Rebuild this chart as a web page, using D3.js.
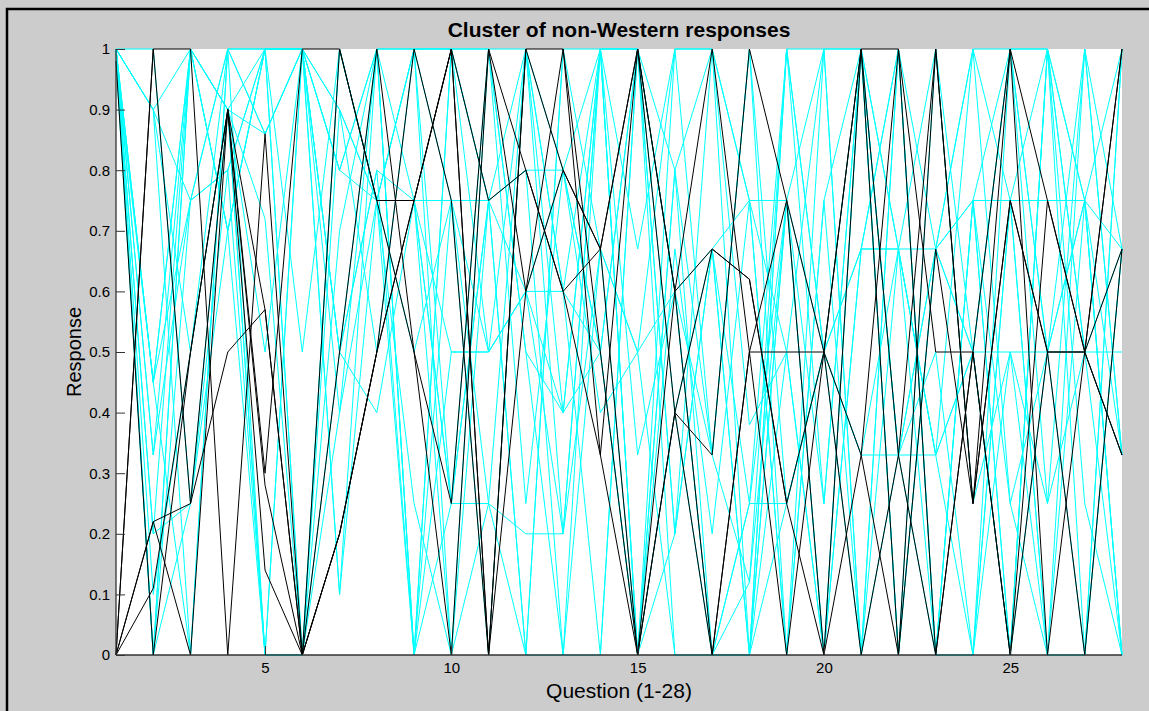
<!DOCTYPE html>
<html>
<head>
<meta charset="utf-8">
<script src="https://cdn.jsdelivr.net/npm/d3@7"></script>
<style>
  html, body { margin: 0; padding: 0; background: #cccccc; }
  svg { display: block; }
  text { font-family: "Liberation Sans", Arial, sans-serif; fill: #000; }
</style>
</head>
<body>
<svg id="chart" width="1149" height="711"></svg>
<script>
// question numbers 1..28
const questions = d3.range(1, 29);

const yTicks = [0, 0.1, 0.2, 0.3, 0.4, 0.5, 0.6, 0.7, 0.8, 0.9, 1];
const yTickLabels = ["0", "0.1", "0.2", "0.3", "0.4", "0.5", "0.6", "0.7", "0.8", "0.9", "1"];
const xTicks = [5, 10, 15, 20, 25];

// responses of the cluster members (cyan)
const clusterResponses = [
  [1, 0.9, 0.75, 1, 0.86, 1, 0.9, 0.75, 0.75, 0.75, 0.75, 0.8, 0.8, 0.5, 1, 0.2, 0.67, 0.75, 0.75, 0.5, 0.67, 0.67, 0.67, 0.75, 0.75, 0.75, 0.75, 0.67],
  [1, 0.45, 1, 0.9, 0, 0, 0.5, 1, 0, 0.25, 0.25, 0.2, 0.2, 1, 0, 0.8, 0, 0.25, 0.25, 0.5, 0.33, 0.33, 0.33, 0.5, 0.5, 0.5, 0.5, 0.33],
  [1, 1, 0.25, 0.8, 1, 1, 0.1, 0.75, 1, 1, 0.5, 0.6, 0.6, 0, 1, 0.4, 0.67, 0, 1, 1, 0, 0.67, 1, 0.5, 1, 1, 0, 1],
  [1, 0.33, 0.75, 1, 1, 0, 0.4, 0.75, 0, 0.5, 0.5, 0.6, 0.4, 1, 1, 0, 0, 0, 0.75, 0.25, 1, 0.33, 0, 0, 0.5, 0.25, 1, 0.33],
  [1, 0.1, 0.5, 0.9, 0.86, 1, 0.8, 1, 0.75, 0, 1, 1, 0.8, 0.4, 0.5, 1, 1, 0.38, 0.5, 0, 1, 0, 0.67, 1, 0.75, 0, 0, 0.67],
  [1, 0, 0.25, 0.7, 1, 0, 0.7, 1, 1, 0.25, 1, 0.5, 0, 0, 1, 0.6, 0, 0, 0.5, 1, 1, 0.67, 0.33, 0, 1, 0.5, 0, 1],
  [0.98, 0, 1, 0.9, 0, 1, 0.5, 0.8, 0, 1, 0.75, 0, 1, 0.67, 0, 0.67, 0.2, 0.75, 0, 1, 0, 1, 0.67, 0.75, 0, 1, 0.5, 0.5],
  [1, 0.2, 1, 0.9, 0.72, 0, 1, 0.75, 0.75, 0.25, 0.75, 0.8, 0, 1, 0.33, 0.6, 0.67, 0, 1, 0.25, 1, 0, 1, 0.25, 0.5, 0, 1, 0.33],
  [1, 0.9, 0.5, 1, 1, 1, 0.9, 0.5, 1, 1, 1, 0.25, 0.8, 1, 1, 0.2, 1, 0.75, 0, 0.75, 1, 0.33, 0.5, 0, 0.75, 1, 0.25, 0],
  [1, 0.45, 0, 1, 0.86, 1, 0.4, 1, 0, 0.75, 0, 1, 0.4, 0.5, 0, 0.8, 0.33, 1, 0.25, 0.5, 0, 1, 0, 0.75, 0, 1, 0.75, 0],
  [1, 0, 0.75, 0.8, 0, 0, 0.9, 0.75, 1, 0, 0.25, 0, 0, 0.67, 0.5, 0, 0, 0.25, 0.75, 0, 0.67, 1, 0, 0, 0.75, 0, 0, 0.67],
  [1, 0.33, 1, 0.7, 1, 1, 0.1, 1, 0, 1, 0.75, 1, 0.6, 1, 0, 0.4, 0, 0.12, 1, 0.5, 0.33, 0.67, 0.33, 1, 1, 0.25, 0.5, 0],
  [1, 0.45, 0.75, 0.8, 1, 1, 0.8, 0.75, 0.25, 0, 0.75, 0.6, 0.2, 0.67, 0.5, 0.6, 0, 0, 0.25, 0.5, 1, 0.33, 0.67, 0.5, 0, 0.5, 1, 0.67],
  [1, 0, 1, 0.9, 0.5, 1, 0.5, 0.4, 0.75, 0.5, 0.5, 0.6, 0.8, 0.5, 1, 0.6, 0.33, 1, 0, 0.75, 0, 0.33, 0.67, 1, 0.25, 0.5, 0.75, 1],
  [1, 0.9, 0, 1, 0, 0, 1, 0.75, 1, 0.75, 0.25, 1, 0.2, 1, 0, 0.2, 0.67, 0.25, 1, 0.5, 0.67, 0.67, 0, 0.75, 0.25, 0, 0.75, 0.33],
  [1, 0.2, 0.25, 0.9, 1, 1, 0.8, 1, 1, 1, 1, 0.5, 0.4, 1, 1, 0.8, 1, 0, 0.75, 1, 1, 0, 0.67, 0.5, 1, 1, 0.5, 0.67],
  [1, 0.9, 1, 0.7, 0, 1, 0.5, 0.8, 0.75, 0.25, 0.75, 0, 1, 1, 0.67, 1, 1, 0.75, 0.5, 0, 1, 0.67, 0.33, 0.5, 0, 1, 0.75, 0],
  [0.98, 0.45, 1, 0.7, 1, 0.5, 1, 0.75, 0.5, 0.75, 0.5, 1, 0.6, 0.5, 0, 1, 0.33, 0.12, 0.75, 0, 0.67, 1, 0, 0.75, 1, 0.5, 0.75, 0]
];

// responses of the highlighted (black) members
const highlightResponses = [
  [0, 1, 1, 0, 0.86, 0, 0.2, 0.5, 0.75, 1, 0.75, 0.8, 0.6, 0.67, 1, 0.6, 0.67, 0.62, 0.25, 0.5, 0, 0.33, 1, 0.25, 0.75, 0.5, 0.5, 1],
  [0, 0.22, 0.25, 0.9, 0.3, 1, 1, 0.75, 0.75, 1, 0, 1, 1, 0.33, 0, 0.4, 0, 0.5, 0.5, 0.5, 1, 1, 0, 0.5, 1, 0.75, 0.5, 0.33],
  [0, 0.22, 0, 0.9, 0.14, 0, 0.5, 1, 0.5, 0, 1, 0.6, 0.8, 0.67, 1, 0.4, 0.33, 1, 0.75, 0, 1, 0.33, 0, 0.5, 0, 0.5, 0.5, 0.67],
  [0, 0.11, 0.5, 0.9, 0.57, 0, 1, 0.75, 0.5, 0.25, 1, 0.8, 0.6, 0.33, 1, 0.6, 0, 0.5, 0.75, 0.5, 1, 0, 1, 0.25, 1, 0, 0.5, 1],
  [0, 1, 0.25, 0.5, 0.57, 0, 0.2, 0.5, 0.75, 1, 0, 0.6, 1, 0.5, 0, 0.4, 0.67, 0.62, 0.25, 0, 0.33, 1, 0.5, 0.5, 0, 0.75, 0.5, 0.33],
  [0.98, 0, 0.5, 0.9, 0.28, 0, 0.2, 0.5, 1, 0.75, 0, 1, 0.8, 0.67, 0, 0.6, 1, 0.5, 0, 0.5, 0.33, 0, 0.67, 0.25, 0.75, 0.5, 0, 0.67]
];

const svg = d3.select("#chart");
const W = 1149, H = 711;
const plot = { left: 116, right: 1122, top: 49, bottom: 655 };

svg.append("rect").attr("width", W).attr("height", H).attr("fill", "#cccccc");

// window frame (only the top and left edges are in the shot)
svg.append("path")
  .attr("d", `M7,${H + 5} L7,9 L${W + 5},9`)
  .attr("fill", "none").attr("stroke", "#000").attr("stroke-width", 2.5);

const x = d3.scaleLinear().domain([1, 28]).range([plot.left, plot.right]);
const y = d3.scaleLinear().domain([0, 1]).range([plot.bottom, plot.top]);

svg.append("rect")
  .attr("x", plot.left).attr("y", plot.top)
  .attr("width", plot.right - plot.left).attr("height", plot.bottom - plot.top)
  .attr("fill", "#fff");

const line = d3.line()
  .x((d, i) => x(questions[i]))
  .y(d => y(d));

const g = svg.append("g");

g.selectAll("path.cyan")
  .data(clusterResponses)
  .join("path")
  .attr("class", "cyan")
  .attr("d", line)
  .attr("fill", "none")
  .attr("stroke", "#00ffff")
  .attr("stroke-width", 1);

g.selectAll("path.black")
  .data(highlightResponses)
  .join("path")
  .attr("class", "black")
  .attr("d", line)
  .attr("fill", "none")
  .attr("stroke", "#000")
  .attr("stroke-width", 1);

// axes, ticks point inward like the original plot
const yAxis = d3.axisLeft(y)
  .tickValues(yTicks)
  .tickFormat((d, i) => yTickLabels[i])
  .tickSizeInner(-9)
  .tickSizeOuter(0)
  .tickPadding(6);

const xAxis = d3.axisBottom(x)
  .tickValues(xTicks)
  .tickFormat(d3.format("d"))
  .tickSizeInner(-9)
  .tickSizeOuter(0)
  .tickPadding(7);

const gy = svg.append("g")
  .attr("transform", `translate(${plot.left},0)`)
  .call(yAxis);

const gx = svg.append("g")
  .attr("transform", `translate(0,${plot.bottom})`)
  .call(xAxis);

[gx, gy].forEach(a => {
  a.select(".domain").attr("stroke", "#333").attr("stroke-width", 1.3);
  a.selectAll(".tick line").attr("stroke", "#333");
  a.selectAll(".tick text")
    .style("font-family", '"Liberation Sans", Arial, sans-serif')
    .style("font-size", "15px")
    .attr("fill", "#000");
});
gy.select(".domain").attr("d", `M0,${plot.bottom}V${plot.top}`);
gx.select(".domain").attr("d", `M${plot.left},0H${plot.right}`);

// title and labels
svg.append("text")
  .attr("x", (plot.left + plot.right) / 2)
  .attr("y", 37)
  .attr("text-anchor", "middle")
  .style("font-size", "21px")
  .style("font-weight", "bold")
  .text("Cluster of non-Western responses");

svg.append("text")
  .attr("x", (plot.left + plot.right) / 2)
  .attr("y", 698)
  .attr("text-anchor", "middle")
  .style("font-size", "21px")
  .text("Question (1-28)");

svg.append("text")
  .attr("transform", `translate(81,${(plot.top + plot.bottom) / 2}) rotate(-90)`)
  .attr("text-anchor", "middle")
  .style("font-size", "20px")
  .text("Response");
</script>
</body>
</html>
